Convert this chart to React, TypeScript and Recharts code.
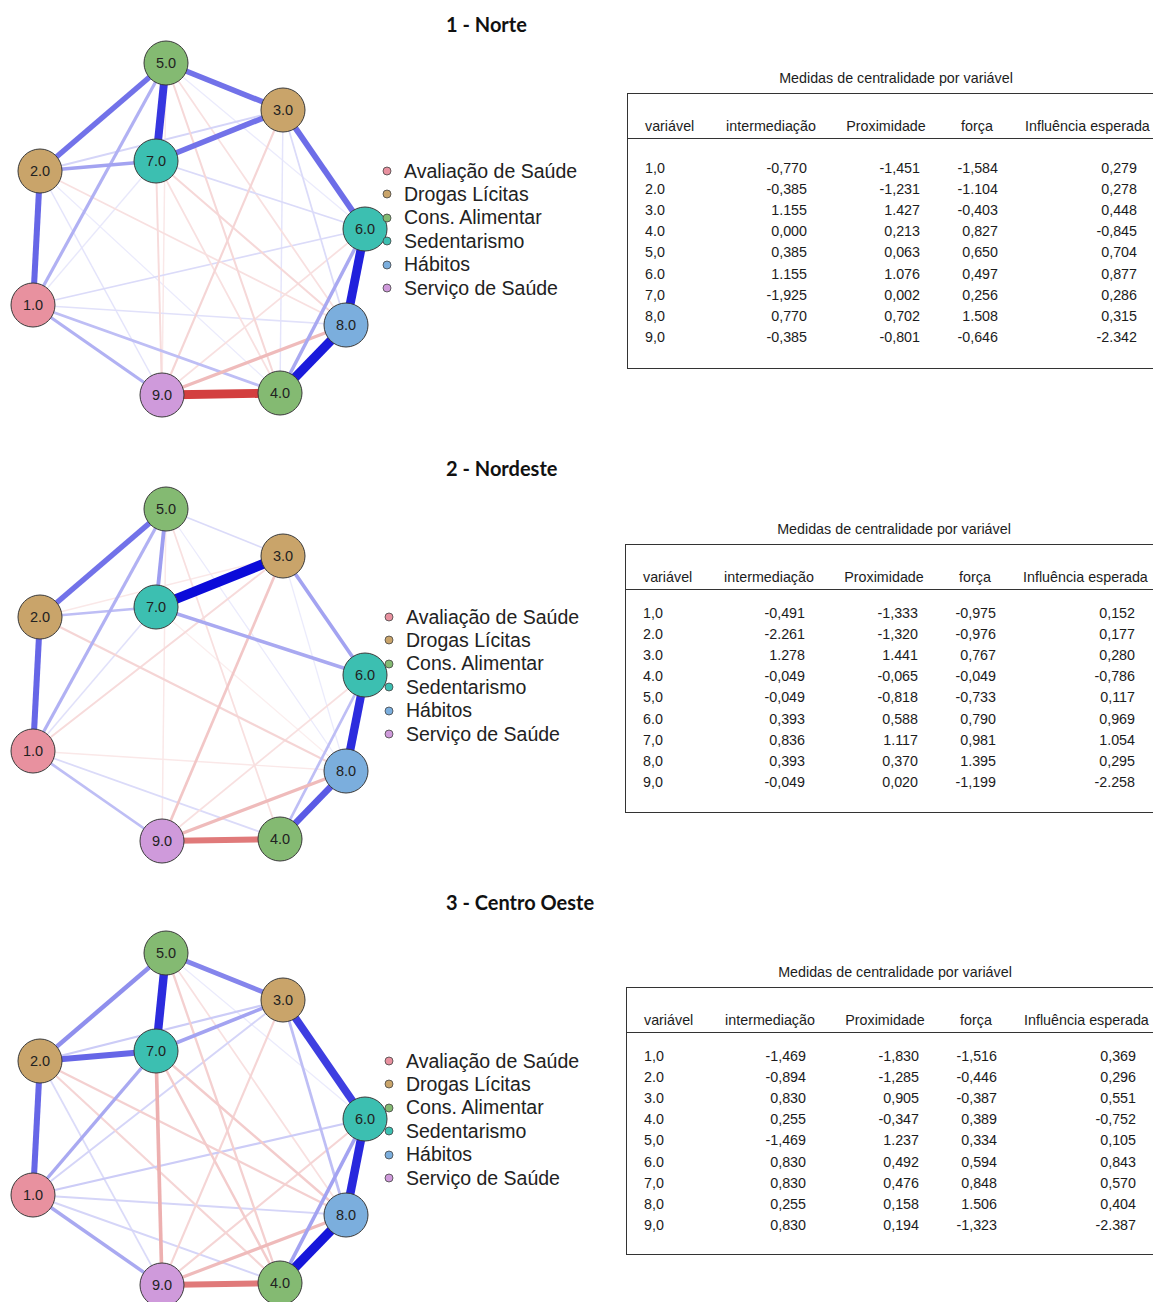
import { ReferenceLine, Scatter, ScatterChart, XAxis, YAxis } from "recharts"

// network layout (same for the three regions)
const nodeIds = ["1.0", "2.0", "3.0", "4.0", "5.0", "6.0", "7.0", "8.0", "9.0"]
const nodeX = [33, 40, 283, 280, 166, 365, 156, 346, 162]
const nodeY = [305, 171, 110, 393, 63, 229, 161, 325, 395]
const nodeGroup = [0, 1, 1, 2, 2, 3, 3, 4, 5]

const groupNames = ["Avaliação de Saúde", "Drogas Lícitas", "Cons. Alimentar", "Sedentarismo", "Hábitos", "Serviço de Saúde"]
const groupColors = ["#E8919F", "#C9A46A", "#84BA72", "#3CBFB1", "#7BAEDD", "#CF9ADB"]

// edges: [from, to, weight]
const norteEdges: [number, number, number][] = [
  [5, 7, 0.75], [6, 8, 0.85], [8, 4, 0.88], [9, 4, -0.85], [5, 3, 0.5], [5, 2, 0.5],
  [2, 1, 0.55], [7, 3, 0.5], [3, 6, 0.52], [2, 7, 0.3], [2, 3, 0.12], [1, 9, 0.25],
  [1, 5, 0.25], [6, 4, 0.28], [1, 4, 0.2], [1, 6, 0.1], [1, 8, 0.08], [1, 7, 0.06],
  [5, 4, -0.13], [5, 8, -0.1], [5, 9, -0.07], [7, 9, -0.12], [7, 8, -0.13], [7, 4, -0.1],
  [3, 9, -0.14], [2, 8, -0.1], [9, 8, -0.25], [9, 6, -0.1], [3, 8, 0.1], [3, 4, 0.07],
  [7, 6, 0.1], [2, 9, 0.07], [2, 4, 0.05], [5, 6, 0.05],
]
const nordesteEdges: [number, number, number][] = [
  [7, 3, 0.95], [6, 8, 0.8], [8, 4, 0.6], [9, 4, -0.55], [5, 2, 0.5], [2, 1, 0.55],
  [5, 7, 0.32], [3, 6, 0.3], [7, 6, 0.28], [1, 5, 0.25], [1, 9, 0.2], [2, 7, 0.2],
  [5, 3, 0.1], [6, 4, 0.2], [1, 4, 0.1], [1, 7, 0.08], [3, 9, -0.2], [9, 8, -0.25],
  [2, 8, -0.14], [1, 3, -0.12], [5, 4, -0.1], [5, 9, -0.07], [2, 3, -0.07], [9, 6, -0.1],
  [1, 8, -0.07], [7, 8, -0.05], [5, 8, 0.05], [3, 8, 0.05],
]
const centroOesteEdges: [number, number, number][] = [
  [5, 7, 0.8], [3, 6, 0.72], [6, 8, 0.82], [8, 4, 0.9], [9, 4, -0.55], [2, 7, 0.55],
  [2, 1, 0.55], [5, 3, 0.42], [5, 2, 0.38], [7, 3, 0.3], [2, 3, 0.15], [7, 1, 0.28],
  [7, 9, -0.3], [1, 9, 0.28], [6, 4, 0.3], [3, 8, 0.2], [1, 3, 0.12], [1, 6, 0.15],
  [1, 8, 0.12], [1, 4, 0.12], [2, 8, -0.16], [2, 4, -0.14], [7, 8, -0.18], [7, 4, -0.18],
  [5, 4, -0.16], [5, 8, -0.1], [3, 9, -0.14], [9, 8, -0.25], [9, 6, -0.14], [2, 9, 0.1],
  [5, 6, 0.05],
]

// centrality tables
const tableVars = ["1,0", "2.0", "3.0", "4.0", "5,0", "6.0", "7,0", "8,0", "9,0"]
const tableHeaders = ["variável", "intermediação", "Proximidade", "força", "Influência esperada"]

const norteInterm = ["-0,770", "-0,385", "1.155", "0,000", "0,385", "1.155", "-1,925", "0,770", "-0,385"]
const norteProx = ["-1,451", "-1,231", "1.427", "0,213", "0,063", "1.076", "0,002", "0,702", "-0,801"]
const norteForca = ["-1,584", "-1.104", "-0,403", "0,827", "0,650", "0,497", "0,256", "1.508", "-0,646"]
const norteInfl = ["0,279", "0,278", "0,448", "-0,845", "0,704", "0,877", "0,286", "0,315", "-2.342"]

const nordesteInterm = ["-0,491", "-2.261", "1.278", "-0,049", "-0,049", "0,393", "0,836", "0,393", "-0,049"]
const nordesteProx = ["-1,333", "-1,320", "1.441", "-0,065", "-0,818", "0,588", "1.117", "0,370", "0,020"]
const nordesteForca = ["-0,975", "-0,976", "0,767", "-0,049", "-0,733", "0,790", "0,981", "1.395", "-1,199"]
const nordesteInfl = ["0,152", "0,177", "0,280", "-0,786", "0,117", "0,969", "1.054", "0,295", "-2.258"]

const coInterm = ["-1,469", "-0,894", "0,830", "0,255", "-1,469", "0,830", "0,830", "0,255", "0,830"]
const coProx = ["-1,830", "-1,285", "0,905", "-0,347", "1.237", "0,492", "0,476", "0,158", "0,194"]
const coForca = ["-1,516", "-0,446", "-0,387", "0,389", "0,334", "0,594", "0,848", "1.506", "-1,323"]
const coInfl = ["0,369", "0,296", "0,551", "-0,752", "0,105", "0,843", "0,570", "0,404", "-2.387"]

const sans = "'Liberation Sans', Arial, sans-serif"

function edgeColor(w: number) {
  const base = w > 0 ? [0, 0, 215] : [204, 34, 34]
  const a = Math.min(1, Math.pow(Math.abs(w), 0.85))
  const c = base.map((v) => Math.round(a * v + (1 - a) * 255))
  return `rgb(${c[0]},${c[1]},${c[2]})`
}

const NodeShape = (props: any) => {
  const { cx, cy, payload } = props
  return (
    <g>
      <circle cx={cx} cy={cy} r={22} fill={payload.color} stroke="#3a3a3a" strokeWidth={1} />
      <text x={cx} y={cy} dy={5} textAnchor="middle" fontSize={14.5} fontFamily={sans} fill="#222">
        {payload.id}
      </text>
    </g>
  )
}

function Network({ edges, top, legendLeft }: { edges: [number, number, number][]; top: number; legendLeft: number }) {
  const nodes = nodeIds.map((id, i) => ({ x: nodeX[i], y: nodeY[i], id, color: groupColors[nodeGroup[i]] }))
  const sorted = [...edges].sort((a, b) => Math.abs(a[2]) - Math.abs(b[2]))
  return (
    <div style={{ position: "absolute", left: 0, top, width: 620, height: 440 }}>
      <ScatterChart width={620} height={440} margin={{ top: 0, right: 0, bottom: 0, left: 0 }}>
        <XAxis type="number" dataKey="x" domain={[0, 620]} hide allowDataOverflow />
        <YAxis type="number" dataKey="y" domain={[0, 440]} reversed hide allowDataOverflow width={0} />
        {sorted.map(([a, b, w], k) => (
          <ReferenceLine
            key={k}
            segment={[
              { x: nodeX[a - 1], y: nodeY[a - 1] },
              { x: nodeX[b - 1], y: nodeY[b - 1] },
            ]}
            stroke={edgeColor(w)}
            strokeWidth={0.8 + Math.abs(w) * 9.5}
            ifOverflow="visible"
          />
        ))}
        <Scatter data={nodes} shape={NodeShape} isAnimationActive={false} />
      </ScatterChart>
      {groupNames.map((name, k) => (
        <div key={name} style={{ position: "absolute", left: legendLeft - 22, top: 171 + k * 23.4 - 12, height: 24, display: "flex", alignItems: "center" }}>
          <svg width={12} height={12} style={{ marginRight: 10 }}>
            <circle cx={5} cy={6} r={4} fill={groupColors[k]} stroke="#444" strokeWidth={0.8} />
          </svg>
          <span style={{ fontFamily: sans, fontSize: 19.5, color: "#222" }}>{name}</span>
        </div>
      ))}
    </div>
  )
}

function CentralityTable(props: { left: number; top: number; height: number; rowTop: number; cols: string[][] }) {
  const { left, top, height, rowTop, cols } = props
  const rights = [179, 292, 370, 509]
  const heads = [143, 258, 349]
  const txt = { position: "absolute" as const, fontFamily: sans, fontSize: 14.3, color: "#1c1c1c", whiteSpace: "nowrap" as const, lineHeight: "16px" }
  return (
    <>
      <div style={{ ...txt, left: left + 269, top: top - 23, transform: "translateX(-50%)" }}>Medidas de centralidade por variável</div>
      <div style={{ position: "absolute", left, top, width: 560, height, borderLeft: "1.5px solid #333", borderTop: "1.5px solid #333", borderBottom: "1.5px solid #333" }}>
        <div style={{ position: "absolute", left: 0, top: 44, width: 560, borderTop: "1.5px solid #333" }} />
        <div style={{ ...txt, left: 17, top: 24 }}>{tableHeaders[0]}</div>
        {heads.map((c, i) => (
          <div key={i} style={{ ...txt, left: c, top: 24, transform: "translateX(-50%)" }}>{tableHeaders[i + 1]}</div>
        ))}
        <div style={{ ...txt, left: 397, top: 24 }}>{tableHeaders[4]}</div>
        {tableVars.map((v, r) => (
          <div key={v} style={{ ...txt, left: 17, top: rowTop + r * 21.1 - 9 }}>{v}</div>
        ))}
        {cols.map((col, i) =>
          col.map((v, r) => (
            <div key={i + "-" + r} style={{ ...txt, right: 560 - rights[i], top: rowTop + r * 21.1 - 9 }}>{v}</div>
          ))
        )}
      </div>
    </>
  )
}

const titleStyle = { position: "absolute" as const, left: 446, fontFamily: "Lato, 'Open Sans', sans-serif", fontWeight: 700, fontSize: 20, color: "#111", lineHeight: "22px" }

export default function App() {
  return (
    <div style={{ position: "absolute", left: 0, top: 0, width: 1153, height: 1302, overflow: "hidden", background: "#fff" }}>
      <div style={{ ...titleStyle, top: 13 }}>1 - Norte</div>
      <div style={{ ...titleStyle, top: 457 }}>2 - Nordeste</div>
      <div style={{ ...titleStyle, top: 891 }}>3 - Centro Oeste</div>

      <Network edges={norteEdges} top={0} legendLeft={404} />
      <Network edges={nordesteEdges} top={446} legendLeft={406} />
      <Network edges={centroOesteEdges} top={890} legendLeft={406} />

      <CentralityTable left={627} top={93} height={274} rowTop={75} cols={[norteInterm, norteProx, norteForca, norteInfl]} />
      <CentralityTable left={625} top={544} height={267} rowTop={69} cols={[nordesteInterm, nordesteProx, nordesteForca, nordesteInfl]} />
      <CentralityTable left={626} top={987} height={266} rowTop={69} cols={[coInterm, coProx, coForca, coInfl]} />
    </div>
  )
}
